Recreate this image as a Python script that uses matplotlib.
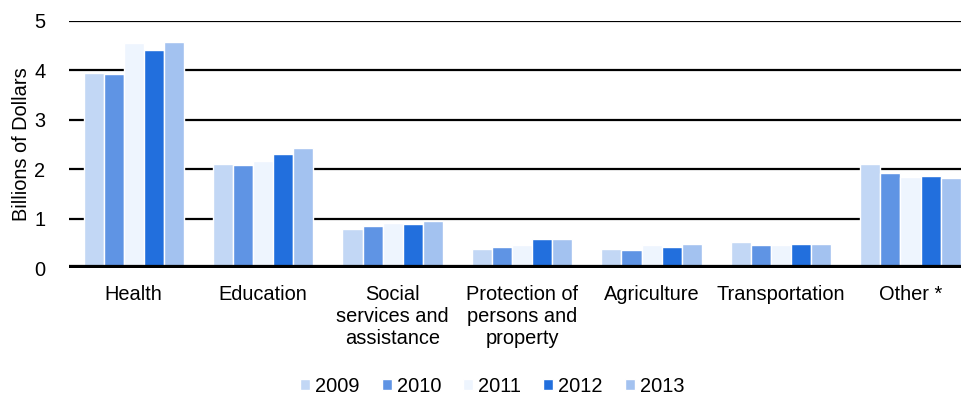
import matplotlib
matplotlib.use("Agg")
import matplotlib.pyplot as plt
import numpy as np
from matplotlib.patches import Patch

plt.rcParams['font.family'] = ['Liberation Sans', 'DejaVu Sans']

categories = ["Health", "Education", "Social\nservices and\nassistance",
              "Protection of\npersons and\nproperty", "Agriculture",
              "Transportation", "Other *"]
years = ["2009", "2010", "2011", "2012", "2013"]
values = {
    "2009": [3.95, 2.11, 0.79, 0.39, 0.39, 0.53, 2.11],
    "2010": [3.92, 2.08, 0.85, 0.43, 0.36, 0.46, 1.92],
    "2011": [4.54, 2.17, 0.92, 0.46, 0.46, 0.46, 1.85],
    "2012": [4.41, 2.31, 0.89, 0.59, 0.43, 0.49, 1.86],
    "2013": [4.57, 2.43, 0.95, 0.59, 0.49, 0.49, 1.82],
}
colors = ["#C2D7F5", "#5F94E4", "#EEF5FE", "#226FDD", "#A3C2F0"]
yticks = [0, 1, 2, 3, 4, 5]

W, H = 961, 396
fig = plt.figure(figsize=(W / 100, H / 100), dpi=100)
ax = fig.add_axes([69 / W, (H - 268.2) / H, 1 - 69 / W, (268.2 - 20.7) / H])

x = np.arange(len(categories))
bw = 0.155
for i, (yr, c) in enumerate(zip(years, colors)):
    ax.bar(x + (i - 2) * bw, values[yr], width=bw, color=c,
           edgecolor="white", linewidth=1.0, zorder=3)

ax.set_ylim(0, 5)
ax.set_xlim(-0.5, 6.39)
ax.set_yticks(yticks)
for t in yticks[1:]:
    ax.axhline(t, color="black", lw=1.6, zorder=1)
ax.axhline(0, color="black", lw=4.5, zorder=4)

for s in ax.spines.values():
    s.set_visible(False)
ax.tick_params(axis="y", length=0, pad=17, labelsize=14.4)
ax.tick_params(axis="x", length=0, pad=12, labelsize=14.4)
ax.set_xticks(x)
ax.set_xticklabels(categories, linespacing=1.2, va="top")
ax.set_ylabel("Billions of Dollars", fontsize=14.4, labelpad=2)

handles = [Patch(facecolor=c, edgecolor="white") for c in colors]
fig.legend(handles, years, loc="center", bbox_to_anchor=(0.512, (H - 386) / H),
           ncol=5, frameon=False, fontsize=14.4, handlelength=0.5,
           handleheight=0.5, handletextpad=0.25, columnspacing=1.1)

fig.savefig("out.png", dpi=100)
